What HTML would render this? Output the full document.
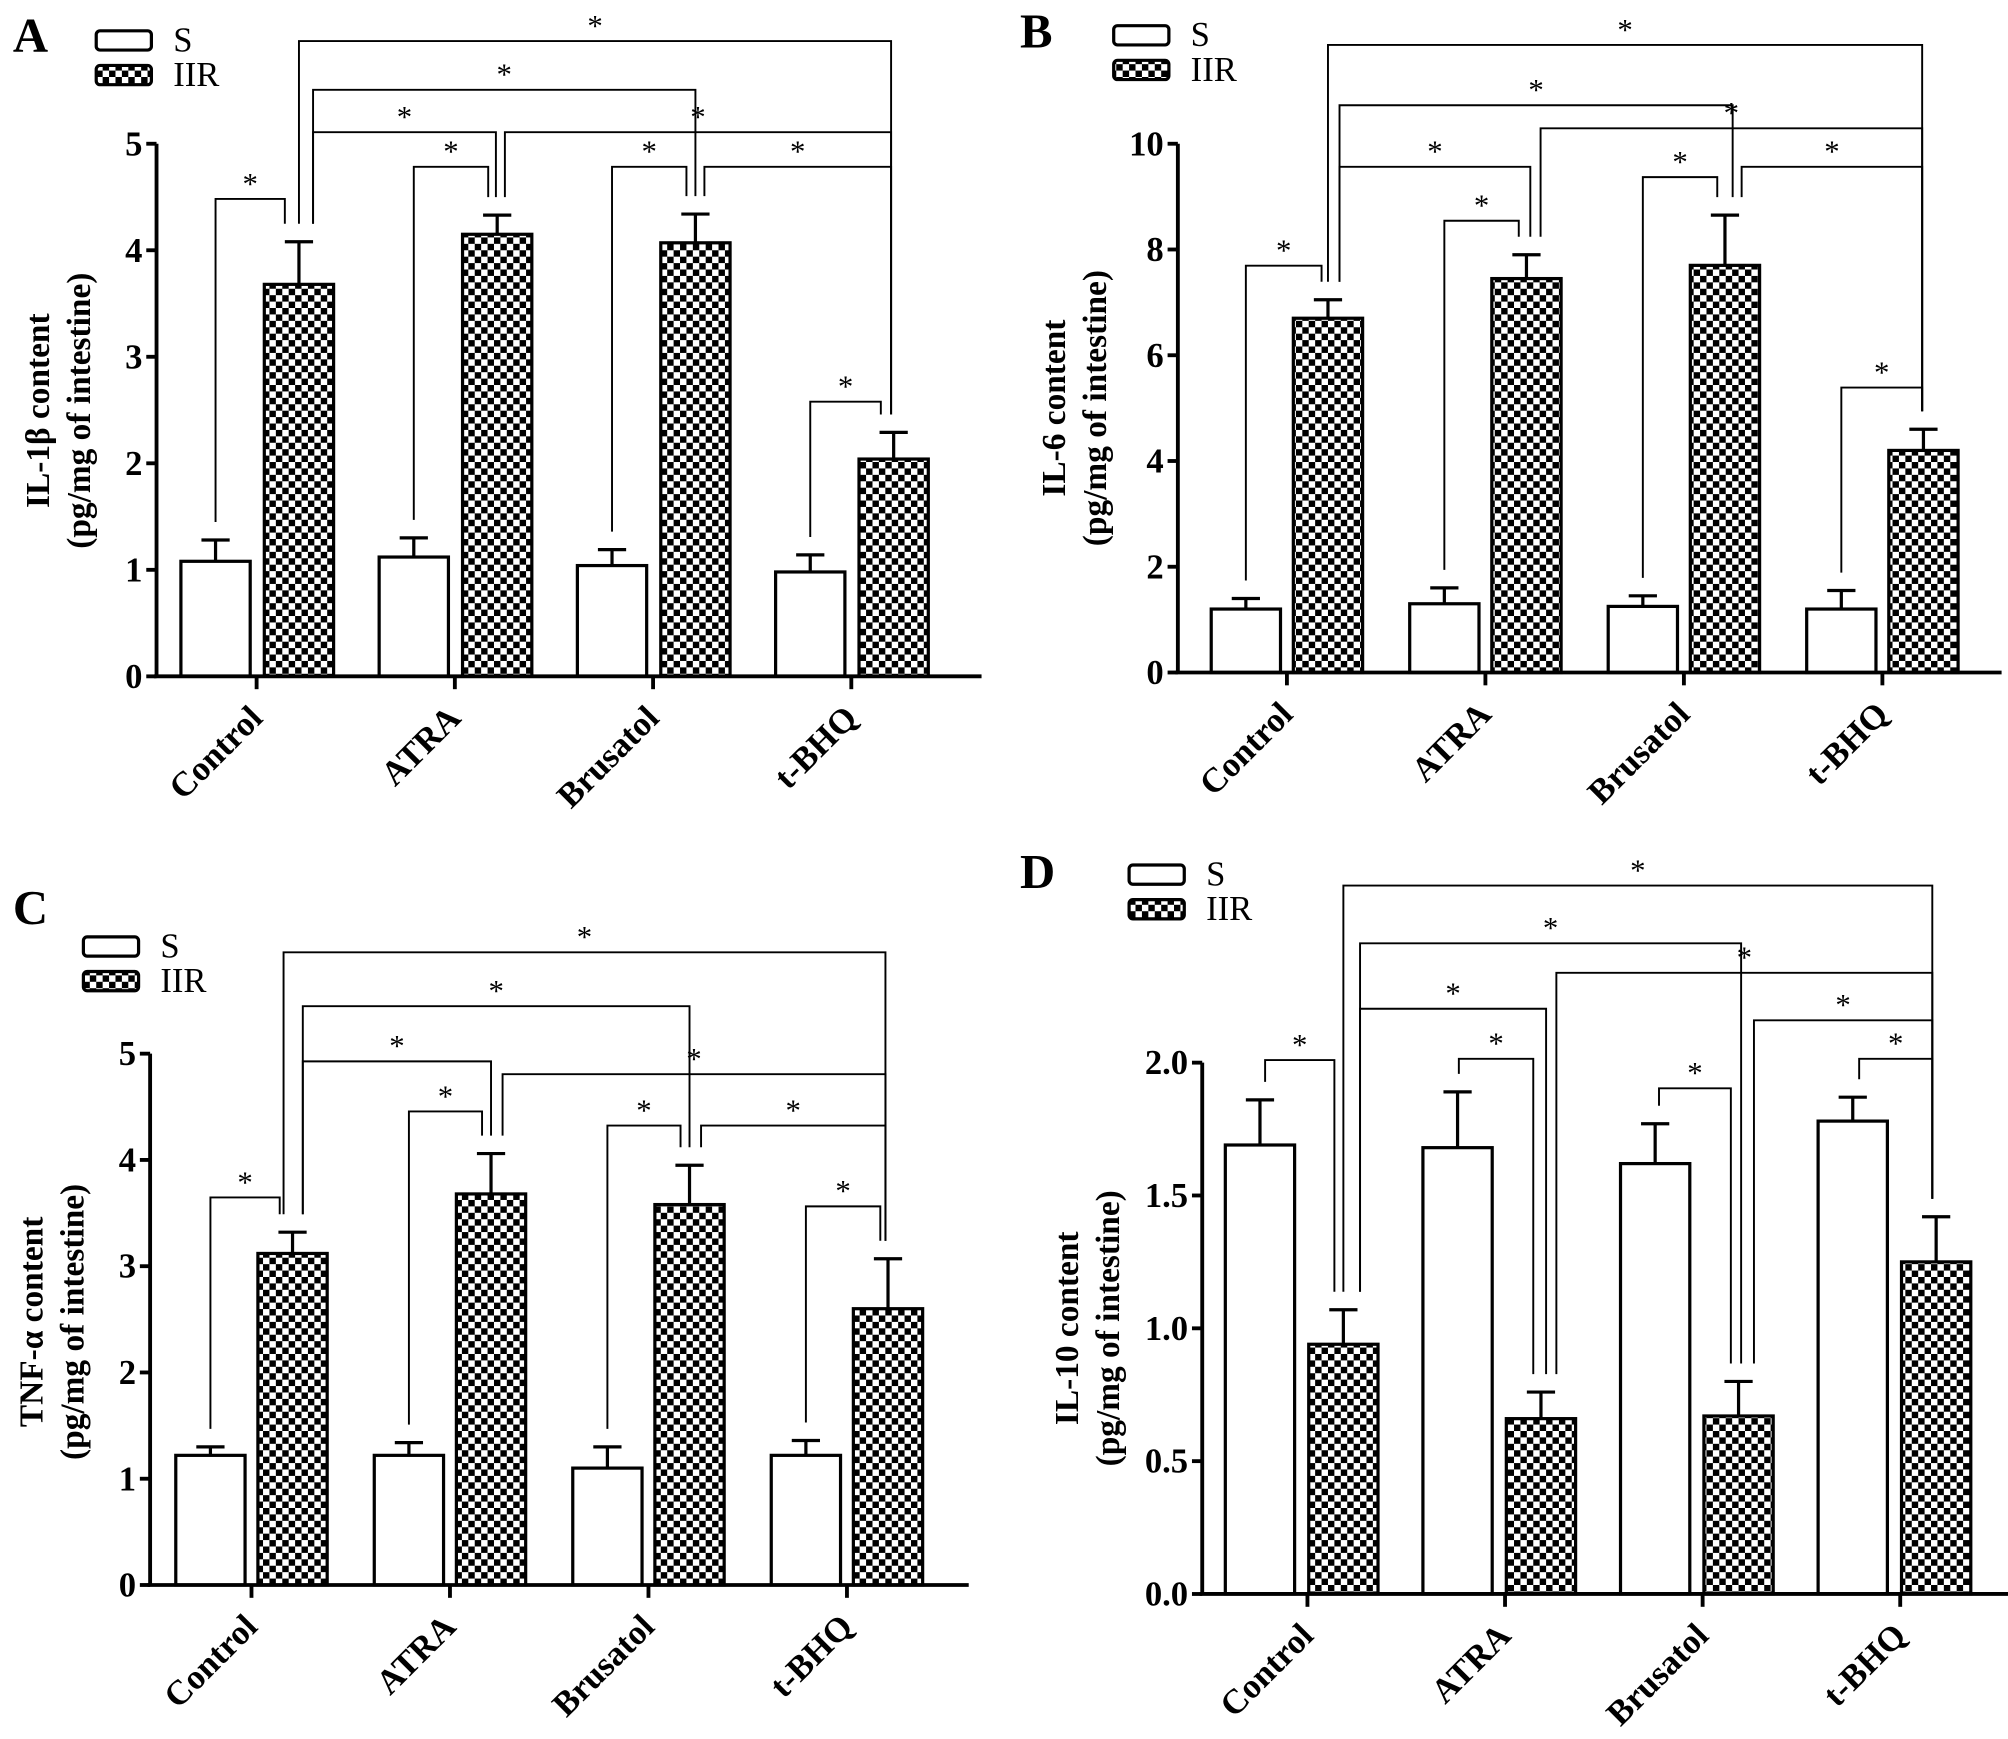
<!DOCTYPE html>
<html><head><meta charset="utf-8"><style>
html,body{margin:0;padding:0;background:#fff;}
svg{display:block;}
text{font-family:"Liberation Serif",serif;fill:#000;}
</style></head>
<body>
<svg id="fig" width="2008" height="1739" viewBox="0 0 1565 1355" preserveAspectRatio="none" xmlns="http://www.w3.org/2000/svg">
<defs>
<pattern id="chk" patternUnits="userSpaceOnUse" width="10" height="10">
<rect width="10" height="10" fill="#fff"/>
<rect width="5" height="5" fill="#000"/>
<rect x="5" y="5" width="5" height="5" fill="#000"/>
</pattern>
</defs>
</svg>
<script>
const categories = ["Control","ATRA","Brusatol","t-BHQ"];
const seriesNames = ["S","IIR"];
// Panel A: IL-1β
const aS = [1.08,1.12,1.04,0.98];
const aSerr = [0.20,0.18,0.15,0.16];
const aIIR = [3.68,4.15,4.07,2.04];
const aIIRerr = [0.40,0.18,0.27,0.25];
const aTicks = [0,1,2,3,4,5];
// Panel B: IL-6
const bS = [1.2,1.3,1.25,1.2];
const bSerr = [0.2,0.3,0.2,0.35];
const bIIR = [6.7,7.45,7.7,4.2];
const bIIRerr = [0.35,0.45,0.95,0.4];
const bTicks = [0,2,4,6,8,10];
// Panel C: TNF-α
const cS = [1.22,1.22,1.1,1.22];
const cSerr = [0.08,0.12,0.2,0.14];
const cIIR = [3.12,3.68,3.58,2.6];
const cIIRerr = [0.2,0.38,0.37,0.47];
const cTicks = [0,1,2,3,4,5];
// Panel D: IL-10
const dS = [1.69,1.68,1.62,1.78];
const dSerr = [0.17,0.21,0.15,0.09];
const dIIR = [0.94,0.66,0.67,1.25];
const dIIRerr = [0.13,0.1,0.13,0.17];
const dTicks = ["0.0","0.5","1.0","1.5","2.0"];

const NS="http://www.w3.org/2000/svg";
const svg=document.getElementById('fig');
function el(tag,attrs,parent,txt){const e=document.createElementNS(NS,tag);for(const k in attrs)e.setAttribute(k,attrs[k]);if(txt!==undefined)e.textContent=txt;(parent||svg).appendChild(e);return e;}

const panels=[
 {id:'a',letter:'A',lx:10,ly:40,S:aS,Se:aSerr,I:aIIR,Ie:aIIRerr,ticks:aTicks,tickTxt:aTicks.map(String),ymax:5,ax:122,y0:527,yt:112,xend:765,t0:200,sp:154.5,so:-32,io:33,
  legX:75,legY:24,ttl1:'IL-1β content',tx:30,ty:320,
  br:[[0,0,0,0,1,-11,155],[0,1,0,3,1,-2,32],[0,1,11,2,1,0,70],[0,1,11,1,1,-1,103],[1,1,6,3,1,-2,103],[1,0,0,1,1,-7,130],[2,0,0,2,1,-7,130],[2,1,7,3,1,-2,130],[3,0,0,3,1,-10,313]]},
 {id:'b',letter:'B',lx:795,ly:37,S:bS,Se:bSerr,I:bIIR,Ie:bIIRerr,ticks:bTicks,tickTxt:bTicks.map(String),ymax:10,ax:918,y0:524,yt:112,xend:1560,t0:1003,sp:154.7,so:-32,io:32,
  legX:868,legY:20,ttl1:'IL-6 content',tx:822,ty:318,
  br:[[0,0,0,0,1,-5,207],[0,1,0,3,1,-1,35],[0,1,9,2,1,6,82],[0,1,9,1,1,3,130],[1,1,11,3,1,-1,100],[1,0,0,1,1,-6,172],[2,0,0,2,1,-6,138],[2,1,13,3,1,-1,130],[3,0,0,3,1,-1,302]]},
 {id:'c',letter:'C',lx:10,ly:720,S:cS,Se:cSerr,I:cIIR,Ie:cIIRerr,ticks:cTicks,tickTxt:cTicks.map(String),ymax:5,ax:117,y0:1235,yt:821,xend:755,t0:196,sp:154.7,so:-32,io:32,
  legX:65,legY:730,ttl1:'TNF-α content',tx:25,ty:1030,
  br:[[0,0,0,0,1,-10,933],[0,1,-7,3,1,-2,742],[0,1,8,2,1,0,784],[0,1,8,1,1,0,827],[1,1,9,3,1,-2,837],[1,0,0,1,1,-7,866],[2,0,0,2,1,-7,877],[2,1,9,3,1,-2,877],[3,0,0,3,1,-6,940]]},
 {id:'d',letter:'D',lx:795,ly:692,S:dS,Se:dSerr,I:dIIR,Ie:dIIRerr,ticks:dTicks.map(Number),tickTxt:dTicks,ymax:2,ax:937,y0:1242,yt:828,xend:1565,t0:1019,sp:154,so:-37,io:28,
  legX:880,legY:674,ttl1:'IL-10 content',tx:832,ty:1035,
  br:[[0,0,4,0,1,-7,826],[0,1,0,3,1,-3,690],[0,1,13,2,1,2,735],[1,1,12,3,1,-3,758],[0,1,13,1,1,4,786],[2,1,12,3,1,-3,795],[1,0,1,1,1,-6,825],[2,0,3,2,1,-6,848],[3,0,5,3,1,-3,825]]}
];
const BW=54;
panels.forEach(p=>{
 const g=el('g',{});
 
 
 const y=v=>p.y0-(v/p.ymax)*(p.y0-p.yt);
 const cx=(i,s)=>p.t0+i*p.sp+(s===0?p.so:p.io);
 const lt=el('text',{x:p.lx,y:p.ly,'font-size':38,'font-weight':'bold'},g,p.letter);
 
 
 ['#fff','url(#chk)'].forEach((f,k)=>{
  const lg=el('g',{},g);
  
  
  el('rect',{x:p.legX,y:p.legY+k*27,width:43,height:15,rx:3,fill:f,stroke:'#000','stroke-width':2.5},lg);
  el('text',{x:p.legX+60,y:p.legY+k*27+16,'font-size':27},lg,seriesNames[k]);
 });
 categories.forEach((c,i)=>{
  [[p.S,p.Se,'#fff'],[p.I,p.Ie,'url(#chk)']].forEach((d,s)=>{
   const v=d[0][i],e=d[1][i],x=cx(i,s);
   const b=el('rect',{x:x-BW/2,y:y(v),width:BW,height:p.y0-y(v),fill:d[2],stroke:'#000','stroke-width':2.5},g);
   
   
   const eb=el('path',{d:`M${x},${y(v)}V${y(v+e)}M${x-11},${y(v+e)}H${x+11}`,stroke:'#000','stroke-width':2.5,fill:'none'},g);
   
   
  });
 });
 const ya=el('path',{d:`M${p.ax},${p.y0}V${p.yt}`,stroke:'#000','stroke-width':3,fill:'none'},g);
 
 
 p.ticks.forEach((t,k)=>{
  el('path',{d:`M${p.ax-8},${y(t)}H${p.ax}`,stroke:'#000','stroke-width':3},g);
  const tl=el('text',{x:p.ax-11,y:y(t)+9,'font-size':27,'font-weight':'bold','text-anchor':'end'},g,p.tickTxt[k]);
  
  
 });
 const xa=el('path',{d:`M${p.ax-2},${p.y0}H${p.xend}`,stroke:'#000','stroke-width':3,fill:'none'},g);
 
 
 categories.forEach((c,i)=>{
  const tx=p.t0+i*p.sp;
  el('path',{d:`M${tx},${p.y0}V${p.y0+10}`,stroke:'#000','stroke-width':3},g);
  const xl=el('text',{x:tx+6,y:p.y0+34,'font-size':27,'font-weight':'bold','text-anchor':'end',transform:`rotate(-45 ${tx+6} ${p.y0+34})`},g,c);
  
  
 });
 const yt=el('text',{transform:`translate(${p.tx+8},${p.ty}) rotate(-90)`,'font-size':26,'font-weight':'bold','text-anchor':'middle'},g);
 
 
 el('tspan',{x:0,y:0},yt,p.ttl1);
 el('tspan',{x:0,y:32},yt,'(pg/mg of intestine)');
 p.br.forEach(b=>{
  const [ga,sa,dxa,gb,sb,dxb,lev]=b;
  const xa=cx(ga,sa)+dxa, xb=cx(gb,sb)+dxb;
  const va=(sa?p.I:p.S)[ga]+(sa?p.Ie:p.Se)[ga];
  const vb=(sb?p.I:p.S)[gb]+(sb?p.Ie:p.Se)[gb];
  const bg=el('g',{},g);
  
  
  el('path',{d:`M${xa},${y(va)-14}V${lev}H${xb}V${y(vb)-14}`,stroke:'#000','stroke-width':1.5,fill:'none'},bg);
  el('text',{x:(xa+xb)/2,y:lev-4,'font-size':24,'text-anchor':'middle',fill:'#333'},bg,'*');
 });
});
</script>
</body></html>
